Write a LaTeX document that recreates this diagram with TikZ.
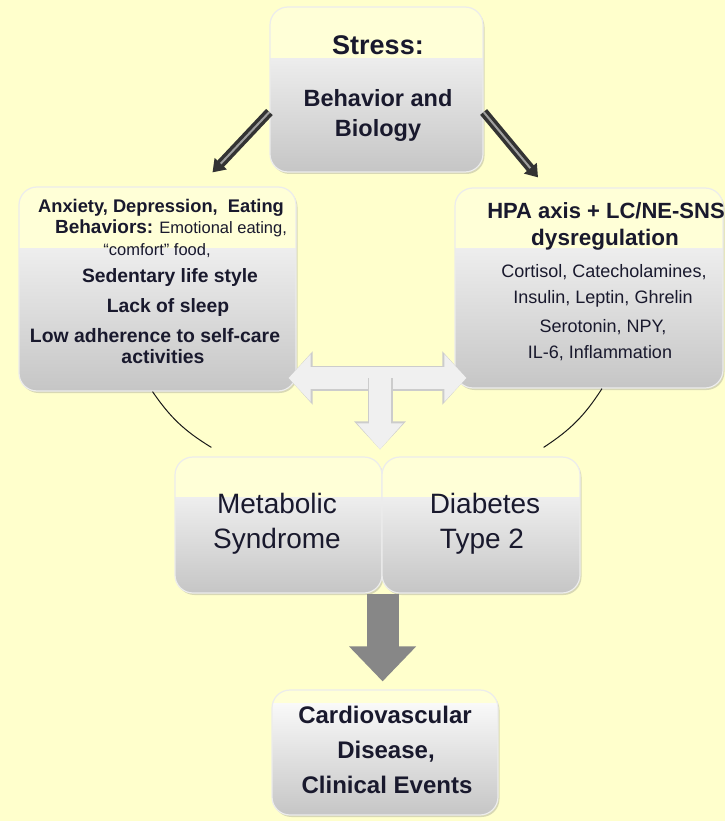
\documentclass[tikz,border=0pt]{standalone}
\usepackage{fontspec}
\setmainfont{Liberation Sans}
\usetikzlibrary{arrows.meta,shadows}

\definecolor{hgrund}{RGB}{255,255,204}
\definecolor{band}{RGB}{255,255,215}
\definecolor{schrift}{RGB}{25,25,45}
\definecolor{dunkelgrau}{RGB}{135,135,135}

\newcommand{\fb}[1]{\fontsize{#1}{#1}\selectfont\bfseries}
\newcommand{\fr}[1]{\fontsize{#1}{#1}\selectfont\mdseries}

\tikzset{
    kasten/.style={rounded corners=18pt, draw=gray!15, line width=1.2pt, inner sep=0pt,
        top color=white, bottom color=gray!45,
        drop shadow={shadow xshift=1.5pt, shadow yshift=-2pt, opacity=.3},
        path picture={\fill[band, sharp corners] (path picture bounding box.north west)
            rectangle ([yshift=-#1]path picture bounding box.north east);}},
    zeile/.style={anchor=base, inner sep=0pt, text=schrift},
    pfeilduenn/.style={line width=9pt, draw=gray!40!black, -{Triangle[length=12pt,width=16pt]},
        postaction={draw=gray!75, line width=2pt, -, shorten >=12pt}},
    pfeilhellzwei/.style={line width=22pt, draw=gray!12,
        {Triangle[length=22pt,width=46pt]}-{Triangle[length=22pt,width=46pt]},
        preaction={draw=gray!40, line width=25pt,
            {Triangle[length=24pt,width=52pt]}-{Triangle[length=24pt,width=52pt]}}},
    pfeilhellab/.style={line width=22pt, draw=gray!12, -{Triangle[length=26pt,width=44pt]},
        preaction={draw=gray!40, line width=25pt, -{Triangle[length=28pt,width=50pt]}}},
    pfeildick/.style={line width=32pt, draw=dunkelgrau, -{Triangle[length=35pt,width=65pt]}},
    bogen/.style={line width=1pt, draw=gray!20!black},
}

\begin{document}
\begin{tikzpicture}[x=1pt, y=-1pt]
            % Hintergrund
            \useasboundingbox (0,0) rectangle (725,821);
            \fill[hgrund] (0,0) rectangle (725,821);

            % Kästen
            \node[kasten=51pt, minimum width=213pt, minimum height=165pt] (stress) at (376.5,89.5) {};
            \node[kasten=61pt, minimum width=277pt, minimum height=204pt] (links) at (157.5,289) {};
            \node[kasten=60pt, minimum width=268pt, minimum height=200pt] (rechts) at (589,288) {};
            \node[kasten=40pt, minimum width=207pt, minimum height=136pt] (metab) at (278.5,525) {};
            \node[kasten=40pt, minimum width=198pt, minimum height=136pt] (diab) at (481,525) {};
            \node[kasten=13pt, minimum width=226pt, minimum height=125pt] (herz) at (385,752.5) {};

            % Pfeile von Stress
            \draw[pfeilduenn] ([yshift=-22.5pt]stress.west) -- ([shift={(55pt,14pt)}]links.north);
            \draw[pfeilduenn] ([yshift=-22.5pt]stress.east) -- ([shift={(-51pt,10pt)}]rechts.north);

            % Bögen
            \draw[bogen] ([xshift=-5pt]links.south) to[bend right=12] ([shift={(37pt,9pt)}]metab.north west);
            \draw[bogen] ([xshift=13pt]rechts.south) to[bend left=12] ([shift={(-37pt,9pt)}]diab.north east);

            % Helle Pfeile
            \coordinate (kreuz) at (380,378);
            \draw[pfeilhellzwei] ([xshift=-8pt]links.east |- kreuz) -- ([xshift=12pt]rechts.west |- kreuz);
            \draw[pfeilhellab] (kreuz) -- ([yshift=7pt]kreuz |- metab.north);

            % Dicker Pfeil
            \draw[pfeildick] (metab.south east) -- ([yshift=8pt]metab.south east |- herz.north);

            % Texte
            \foreach \x/\y/\t [count=\i] in {
                    378/55/{\fb{27}Stress:},
                    378/107/{\fb{23.5}Behavior and},
                    378/137/{\fb{23.5}Biology}} {
                \node[zeile] (st\i) at (\x,\y) {\t};
            }
            \foreach \x/\y/\t [count=\i] in {
                    161/212/{\fb{18.3}Anxiety, Depression,\ \ Eating},
                    171/233/{\fb{19}Behaviors:\fr{16.5} Emotional eating,},
                    157/255/{\fr{16.5}“comfort” food,},
                    170/282/{\fb{19.3}Sedentary life style},
                    168/312/{\fb{19.3}Lack of sleep},
                    155/342/{\fb{19.4}Low adherence to self-care},
                    163/363/{\fb{19.4}activities}} {
                \node[zeile] (li\i) at (\x,\y) {\t};
            }
            \foreach \x/\y/\t [count=\i] in {
                    606/218/{\fb{22}HPA axis + LC/NE-SNS},
                    605/245/{\fb{22.5}dysregulation},
                    604/277/{\fr{18}Cortisol, Catecholamines,},
                    603/303/{\fr{18}Insulin, Leptin, Ghrelin},
                    603/332/{\fr{18}Serotonin, NPY,},
                    600/358/{\fr{18}IL-6, Inflammation}} {
                \node[zeile] (re\i) at (\x,\y) {\t};
            }
            \foreach \x/\y/\t [count=\i] in {
                    277/513/{\fr{28}Metabolic},
                    277/548/{\fr{28}Syndrome},
                    485/513/{\fr{28}Diabetes},
                    482/548/{\fr{28}Type 2}} {
                \node[zeile] (mi\i) at (\x,\y) {\t};
            }
            \foreach \x/\y/\t [count=\i] in {
                    385/723/{\fb{24}Cardiovascular},
                    386/758/{\fb{24}Disease,},
                    387/793/{\fb{24}Clinical Events}} {
                \node[zeile] (he\i) at (\x,\y) {\t};
            }
\end{tikzpicture}
\end{document}
